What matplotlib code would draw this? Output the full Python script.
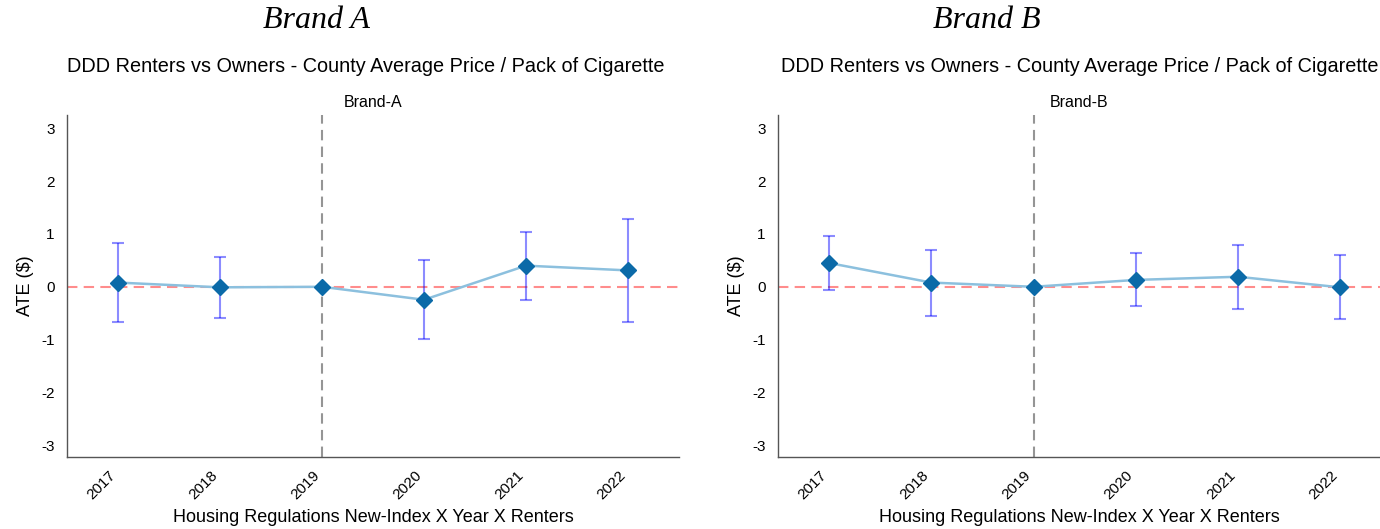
import matplotlib
matplotlib.use("Agg")
import matplotlib.pyplot as plt
import numpy as np

plt.rcParams['font.family'] = ['Liberation Sans', 'DejaVu Sans']

years = ['2017', '2018', '2019', '2020', '2021', '2022']

# Brand A: point estimates and 95% CI bounds
ate_a = [0.08, -0.01, 0.0, -0.245, 0.40, 0.31]
low_a = [-0.67, -0.59, 0.0, -0.99, -0.25, -0.66]
high_a = [0.82, 0.56, 0.0, 0.51, 1.04, 1.28]

# Brand B
ate_b = [0.45, 0.08, 0.0, 0.13, 0.19, -0.01]
low_b = [-0.06, -0.56, 0.0, -0.36, -0.42, -0.61]
high_b = [0.97, 0.70, 0.0, 0.63, 0.80, 0.60]

yticks = [-3, -2, -1, 0, 1, 2, 3]

fig = plt.figure(figsize=(13.8, 5.29), dpi=100)


def draw_panel(ax, ate, low, high, brand, xmax):
    x = np.arange(len(years))
    ate = np.array(ate)
    yerr = [ate - np.array(low), np.array(high) - ate]
    ax.axhline(0, color='red', alpha=0.45, linestyle=(0, (5, 3)), linewidth=1.5, zorder=1)
    ax.axvline(2, color='#959595', linestyle=(0, (5, 3)), linewidth=1.5, zorder=1)
    ax.errorbar(x, ate, yerr=yerr, fmt='none', ecolor='blue', alpha=0.45,
                capsize=4, elinewidth=1.5, capthick=1.5, zorder=2)
    ax.plot(x, ate, color='#8cc0de', linewidth=1.8, zorder=3)
    ax.plot(x, ate, 'D', color='#0b6aa8', markersize=8, zorder=4)
    ax.set_xlim(-0.5, xmax)
    ax.set_ylim(-3.22, 3.25)
    ax.set_yticks(yticks)
    ax.set_yticklabels([str(t) for t in yticks])
    ax.set_xticks(x)
    ax.set_xticklabels(years, rotation=45, ha='right')
    ax.tick_params(axis='y', length=0, labelsize=11, pad=9)
    ax.tick_params(axis='x', length=0, labelsize=11, pad=8)
    for s in ['top', 'right']:
        ax.spines[s].set_visible(False)
    for s in ['left', 'bottom']:
        ax.spines[s].set_color('#555555')
        ax.spines[s].set_linewidth(1.0)
    ax.set_title(brand, fontsize=11.5, pad=6)
    ax.set_xlabel('Housing Regulations New-Index X Year X Renters', fontsize=13, labelpad=5)
    ax.set_ylabel('ATE ($)', fontsize=13, labelpad=5)


ax1 = fig.add_axes([67 / 1380, 1 - 457 / 529, 612 / 1380, 342 / 529])
draw_panel(ax1, ate_a, low_a, high_a, 'Brand-A', 5.5)
ax2 = fig.add_axes([778 / 1380, 1 - 457 / 529, 602 / 1380, 342 / 529])
draw_panel(ax2, ate_b, low_b, high_b, 'Brand-B', 5.39)

sup = 'DDD Renters vs Owners - County Average Price / Pack of Cigarette'
fig.text(366 / 1380, 1 - 66 / 529, sup, ha='center', va='center', fontsize=14.3)
fig.text(1080 / 1380, 1 - 66 / 529, sup, ha='center', va='center', fontsize=14.3)

fig.text(316 / 1380, 1 - 20 / 529, 'Brand A', ha='center', va='center', fontsize=23,
         family='Liberation Serif', style='italic')
fig.text(987 / 1380, 1 - 20 / 529, 'Brand B', ha='center', va='center', fontsize=23,
         family='Liberation Serif', style='italic')

fig.savefig('out.png', dpi=100)
